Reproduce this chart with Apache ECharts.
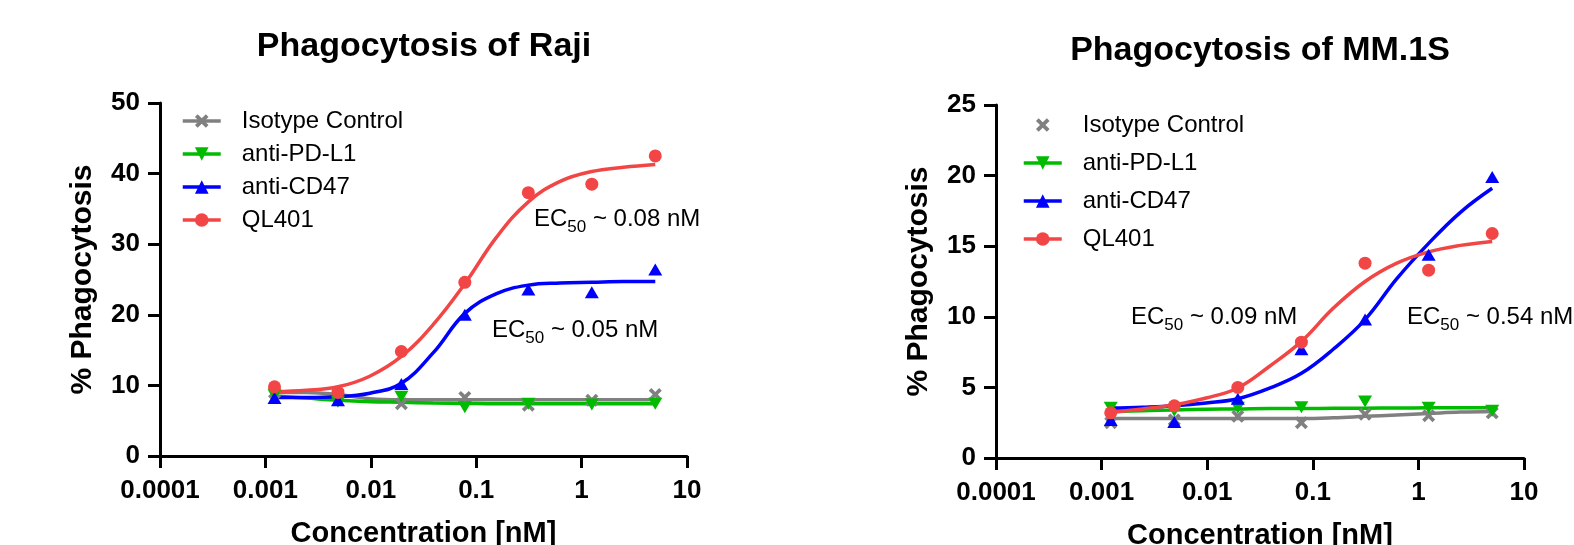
<!DOCTYPE html>
<html>
<head>
<meta charset="utf-8">
<script src="https://cdn.jsdelivr.net/npm/echarts@6/dist/echarts.min.js"></script>
<style>
  html, body { margin: 0; padding: 0; background: #fff; }
  #chart { width: 1574px; height: 545px; }
</style>
</head>
<body>
<div id="chart"></div>
<script>
// 4-fold dilution series (nM)
const conc = [0.00122, 0.00488, 0.0195, 0.078, 0.3125, 1.25, 5];
const fitConc = [0.00122, 0.00244, 0.00488, 0.00977, 0.0195, 0.039, 0.078, 0.156, 0.3125, 0.625, 1.25, 2.5, 5];
const xTickLabels = ['0.0001', '0.001', '0.01', '0.1', '1', '10'];
const seriesNames = ['Isotype Control', 'anti-PD-L1', 'anti-CD47', 'QL401'];

// Raji - measured points
const rajiIsotype = [9.0, 8.8, 7.4, 8.3, 7.2, 7.9, 8.7];
const rajiPDL1 = [8.6, 7.7, 8.4, 6.9, 7.4, 7.3, 7.4];
const rajiCD47 = [8.2, 7.9, 10.2, 20.0, 23.6, 23.2, 26.4];
const rajiQL401 = [9.8, 9.0, 14.8, 24.6, 37.3, 38.5, 42.5];
// Raji - fitted curves
const rajiIsotypeFit = [9.0, 9.0, 8.7, 8.1, 7.95, 7.95, 7.95, 7.95, 7.95, 7.95, 7.95, 7.95, 8.0];
const rajiPDL1Fit = [8.5, 8.2, 7.9, 7.7, 7.6, 7.5, 7.45, 7.4, 7.4, 7.4, 7.4, 7.4, 7.4];
const rajiCD47Fit = [8.3, 8.3, 8.4, 8.9, 10.3, 14.6, 20.2, 23.0, 24.2, 24.5, 24.6, 24.7, 24.7];
const rajiQL401Fit = [9.1, 9.3, 9.8, 11.3, 14.1, 18.6, 24.4, 31.0, 36.0, 38.9, 40.3, 40.9, 41.3];

// MM.1S - measured points
const mmIsotype = [2.5, 2.7, 2.95, 2.5, 3.1, 3.0, 3.2];
const mmPDL1 = [3.55, 3.35, 3.55, 3.6, 4.0, 3.55, 3.35];
const mmCD47 = [2.7, 2.55, 4.2, 7.7, 9.8, 14.4, 19.9];
const mmQL401 = [3.2, 3.7, 5.0, 8.2, 13.8, 13.3, 15.9];
// MM.1S - fitted curves
const mmIsotypeFit = [2.8, 2.8, 2.8, 2.8, 2.8, 2.8, 2.8, 2.85, 2.95, 3.05, 3.15, 3.25, 3.3];
const mmPDL1Fit = [3.3, 3.35, 3.4, 3.45, 3.47, 3.5, 3.5, 3.52, 3.53, 3.54, 3.55, 3.55, 3.55];
const mmCD47Fit = [3.54, 3.6, 3.7, 3.9, 4.2, 4.95, 6.0, 7.7, 9.8, 12.7, 15.2, 17.4, 19.1];
const mmQL401Fit = [3.23, 3.47, 3.77, 4.25, 4.96, 6.5, 8.26, 10.6, 12.5, 13.8, 14.6, 15.06, 15.34];

const FONT = '"Liberation Sans", Arial, Helvetica, sans-serif';
const colors = ['#808080', '#00bb00', '#0000ff', '#f24646'];
const symbols = [
  'path://M2,0 L5,3 L8,0 L10,2 L7,5 L10,8 L8,10 L5,7 L2,10 L0,8 L3,5 L0,2 Z',
  'path://M0,0 L10,0 L5,9 Z',
  'path://M5,0 L10,9 L0,9 Z',
  'circle'
];
const symbolSizes = [[13, 13], [14, 12], [14, 12], 13];

const zip = (xs, ys) => xs.map((x, i) => [x, ys[i]]);

function buildSeries(idx, points, fits) {
  const out = [];
  fits.forEach((fit, k) => {
    out.push({
      name: seriesNames[k],
      type: 'line',
      xAxisIndex: idx, yAxisIndex: idx,
      data: zip(fitConc, fit),
      smooth: 0.4,
      showSymbol: false,
      symbol: symbols[k],
      symbolSize: symbolSizes[k],
      lineStyle: { color: colors[k], width: 3.5 },
      itemStyle: { color: colors[k] },
      z: 2
    });
  });
  points.forEach((pts, k) => {
    out.push({
      name: seriesNames[k] + ' points ' + idx,
      type: 'scatter',
      xAxisIndex: idx, yAxisIndex: idx,
      data: zip(conc, pts),
      symbol: symbols[k],
      symbolSize: symbolSizes[k],
      itemStyle: { color: colors[k], opacity: 1 },
      z: 3
    });
  });
  return out;
}

function xAxisCfg(gridIndex) {
  return {
    gridIndex: gridIndex,
    type: 'log', logBase: 10, min: 0.0001, max: 10,
    name: 'Concentration [nM]',
    nameLocation: 'middle', nameGap: 63,
    nameTextStyle: { fontSize: 29, fontWeight: 'bold', color: '#000', fontFamily: FONT },
    axisLine: { onZero: false, lineStyle: { color: '#000', width: 3 } },
    axisTick: { length: 12, lineStyle: { color: '#000', width: 3 } },
    minorTick: { show: false },
    splitLine: { show: false },
    axisLabel: {
      fontSize: 26, fontWeight: 'bold', color: '#000', fontFamily: FONT, margin: 22,
      formatter: v => xTickLabels[Math.round(Math.log10(v)) + 4]
    }
  };
}

function yAxisCfg(gridIndex, max, interval) {
  return {
    gridIndex: gridIndex,
    type: 'value', min: 0, max: max, interval: interval,
    name: '% Phagocytosis',
    nameLocation: 'middle', nameGap: 62, nameRotate: 90,
    nameTextStyle: { fontSize: 30, fontWeight: 'bold', color: '#000', fontFamily: FONT },
    axisLine: { show: true, lineStyle: { color: '#000', width: 3 } },
    axisTick: { show: true, length: 12, lineStyle: { color: '#000', width: 3 } },
    splitLine: { show: false },
    axisLabel: { fontSize: 26, fontWeight: 'bold', color: '#000', fontFamily: FONT, margin: 20 }
  };
}

function legendCfg(left, top, gap, hideIsotypeLine) {
  return {
    orient: 'vertical', left: left, top: top, padding: 0,
    itemWidth: 38, itemHeight: 17, itemGap: gap,
    selectedMode: false,
    lineStyle: { width: 3.5 },
    textStyle: { fontSize: 24, color: '#000', fontFamily: FONT, padding: [0, 0, 0, 16] },
    data: seriesNames.map((n, k) => (k === 0 && hideIsotypeLine) ? { name: n, lineStyle: { opacity: 0, width: 3.5 } } : n)
  };
}

// EC50 label with subscript
function ec50Text(x, y, value) {
  return {
    type: 'text', x: x, y: y,
    style: {
      text: '{a|EC}{s|50}{a| ~ ' + value + ' nM}',
      align: 'left', verticalAlign: 'middle',
      rich: {
        a: { fontSize: 24, fontFamily: FONT, fill: '#000', color: '#000', lineHeight: 34 },
        s: { fontSize: 17, fontFamily: FONT, fill: '#000', color: '#000', lineHeight: 34, verticalAlign: 'bottom' }
      }
    }
  };
}

const chart = echarts.init(document.getElementById('chart'));
chart.setOption({
  animation: false,
  backgroundColor: '#fff',
  grid: [
    { left: 160, top: 103, width: 527, height: 353, outerBoundsMode: 'none', containLabel: false },
    { left: 996, top: 105, width: 528, height: 353, outerBoundsMode: 'none', containLabel: false }
  ],
  xAxis: [xAxisCfg(0), xAxisCfg(1)],
  yAxis: [yAxisCfg(0, 50, 10), yAxisCfg(1, 25, 5)],
  legend: [legendCfg(181, 109, 9, false), legendCfg(1022, 113, 14, true)],
  graphic: [
    { type: 'text', x: 424, y: 47, style: { text: 'Phagocytosis of Raji', font: 'bold 34px ' + FONT, fill: '#000', align: 'center', verticalAlign: 'middle' } },
    { type: 'text', x: 1260, y: 51, style: { text: 'Phagocytosis of MM.1S', font: 'bold 34px ' + FONT, fill: '#000', align: 'center', verticalAlign: 'middle' } },
    ec50Text(534, 219, '0.08'),
    ec50Text(492, 330, '0.05'),
    ec50Text(1131, 317, '0.09'),
    ec50Text(1407, 317, '0.54')
  ],
  series: [
    ...buildSeries(0, [rajiIsotype, rajiPDL1, rajiCD47, rajiQL401], [rajiIsotypeFit, rajiPDL1Fit, rajiCD47Fit, rajiQL401Fit]),
    ...buildSeries(1, [mmIsotype, mmPDL1, mmCD47, mmQL401], [mmIsotypeFit, mmPDL1Fit, mmCD47Fit, mmQL401Fit])
  ]
});
</script>
</body>
</html>
